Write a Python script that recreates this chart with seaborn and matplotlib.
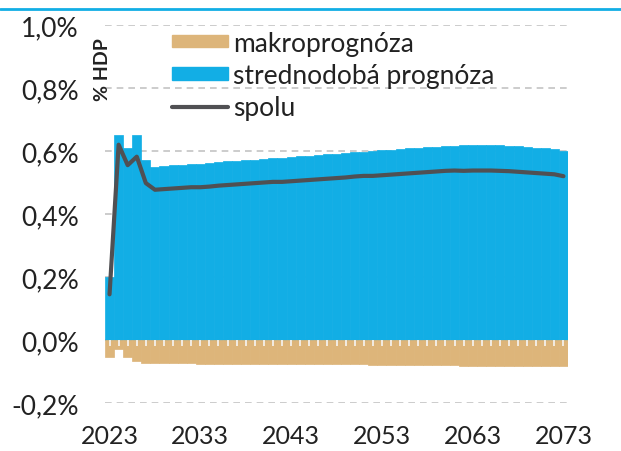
import matplotlib
matplotlib.use("Agg")
import numpy as np
import pandas as pd
import matplotlib.pyplot as plt
import seaborn as sns
from matplotlib.ticker import FuncFormatter
from matplotlib.lines import Line2D
from matplotlib.patches import Patch

# data (% HDP)
years = list(range(2023, 2074))

strednodoba = [
    0.200, 0.650, 0.610, 0.650, 0.570, 0.550, 0.552, 0.554, 0.556, 0.558,
    0.560, 0.562, 0.565, 0.567, 0.569, 0.571, 0.573, 0.575, 0.577, 0.579,
    0.581, 0.583, 0.585, 0.587, 0.589, 0.591, 0.593, 0.596, 0.598, 0.600,
    0.602, 0.604, 0.606, 0.608, 0.610, 0.612, 0.614, 0.616, 0.617, 0.618,
    0.619, 0.619, 0.619, 0.618, 0.617, 0.615, 0.613, 0.611, 0.609, 0.607,
    0.601,
]

makro = [
    -0.055, -0.030, -0.055, -0.068, -0.072, -0.073, -0.073, -0.073, -0.073, -0.073,
    -0.075, -0.075, -0.075, -0.075, -0.075, -0.075, -0.075, -0.075, -0.075, -0.077,
    -0.077, -0.077, -0.077, -0.077, -0.077, -0.077, -0.077, -0.077, -0.077, -0.079,
    -0.079, -0.079, -0.079, -0.079, -0.079, -0.079, -0.079, -0.079, -0.079, -0.081,
    -0.081, -0.081, -0.081, -0.081, -0.081, -0.081, -0.081, -0.081, -0.081, -0.081,
    -0.081,
]

spolu = [
    0.145, 0.620, 0.555, 0.582, 0.498, 0.477, 0.479, 0.481, 0.483, 0.485,
    0.485, 0.487, 0.490, 0.492, 0.494, 0.496, 0.498, 0.500, 0.502, 0.502,
    0.504, 0.506, 0.508, 0.510, 0.512, 0.514, 0.516, 0.519, 0.521, 0.521,
    0.523, 0.525, 0.527, 0.529, 0.531, 0.533, 0.535, 0.537, 0.538, 0.537,
    0.538, 0.538, 0.538, 0.537, 0.536, 0.534, 0.532, 0.530, 0.528, 0.526,
    0.520,
]

x_labels = [2023, 2033, 2043, 2053, 2063, 2073]
y_ticks = [-0.2, 0.0, 0.2, 0.4, 0.6, 0.8, 1.0]

BLUE = "#12AEE5"
TAN = "#DDB57A"
GRAY = "#505053"
TXT = "#222222"

df = pd.DataFrame({"rok": years, "stred": strednodoba, "makro": makro, "spolu": spolu})

sns.set_theme(style="white")
plt.rcParams["font.family"] = ["Lato", "DejaVu Sans"]

fig = plt.figure(figsize=(6.21, 4.52), dpi=100)
ax = fig.add_axes([105 / 621, 48 / 452, 463 / 621, 378 / 452])

sns.barplot(data=df, x="rok", y="stred", native_scale=True, width=1.0, color=BLUE,
            saturation=1, errorbar=None, edgecolor=BLUE, linewidth=0.5, ax=ax)
sns.barplot(data=df, x="rok", y="makro", native_scale=True, width=1.0, color=TAN,
            saturation=1, errorbar=None, edgecolor=TAN, linewidth=0.5, ax=ax)
sns.lineplot(data=df, x="rok", y="spolu", color=GRAY, linewidth=3, ax=ax)

ax.set_xlim(2022.5, 2073.5)
ax.set_ylim(-0.2, 1.0)
ax.set_yticks(y_ticks)
ax.yaxis.set_major_formatter(FuncFormatter(lambda v, p: f"{v:.1f}%".replace(".", ",")))
ax.set_xticks(x_labels)
ax.set_xticklabels([str(y) for y in x_labels])
ax.tick_params(axis="both", length=0, labelcolor=TXT)
ax.tick_params(axis="y", pad=19, labelsize=19)
ax.tick_params(axis="x", pad=15, labelsize=18)
ax.set_xlabel("")
ax.set_ylabel("")

ax.set_axisbelow(True)
ax.yaxis.grid(True, linestyle=(0, (4, 3)), color="#C4C4C4", linewidth=1.2)
ax.xaxis.grid(False)
for s in ax.spines.values():
    s.set_visible(False)

# small light tick marks along the zero line
sec = ax.secondary_xaxis(0.2 / 1.2)
sec.set_xticks(years)
sec.tick_params(axis="x", direction="out", length=4, width=1.3, color="#F4F0EA",
                labelbottom=False, labeltop=False)
for s in sec.spines.values():
    s.set_visible(False)
sec.set_zorder(1.5)

handles = [Patch(color=TAN), Patch(color=BLUE), Line2D([], [], color=GRAY, linewidth=3)]
labels = ["makroprognóza", "strednodobá prognóza", "spolu"]
ax.legend(handles, labels, loc="upper left", bbox_to_anchor=(0.145, 0.985), frameon=False,
          fontsize=19, handlelength=2.1, handleheight=0.35, handletextpad=0.2,
          labelspacing=0.27, borderpad=0, borderaxespad=0, labelcolor=TXT)

fig.text(102 / 621, 1 - 70 / 452, "% HDP", rotation=90, ha="center", va="center",
         fontsize=14, fontweight="bold", color=TXT)

fig.add_artist(Line2D([0, 1], [1 - 10 / 452, 1 - 10 / 452], transform=fig.transFigure,
                      color=BLUE, linewidth=2))

fig.savefig("out.png", dpi=100)
